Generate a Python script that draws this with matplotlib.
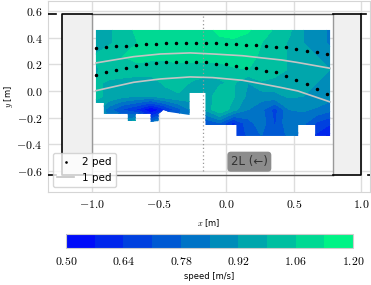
import numpy as np
import matplotlib
matplotlib.use("Agg")
import matplotlib.pyplot as plt
from matplotlib.patches import Polygon, Rectangle
from matplotlib.ticker import FuncFormatter, MultipleLocator

plt.rcParams["mathtext.fontset"] = "cm"
plt.rcParams["font.family"] = "DejaVu Sans"

# speed field (m/s), rows from top (y=0.46) to bottom (y=-0.34)
grid_x = [-0.97, -0.87, -0.77, -0.66, -0.56, -0.46, -0.36, -0.25, -0.15,
          -0.05, 0.05, 0.16, 0.26, 0.36, 0.47, 0.57, 0.67, 0.77]
grid_y = [0.46, 0.36, 0.26, 0.16, 0.06, -0.04, -0.14, -0.24, -0.34]
speed = [
    [0.92, 0.98, 1.02, 1.08, 1.10, 1.10, 1.10, 1.10, 1.12, 1.14, 1.15, 1.14, 1.10, 1.05, 1.00, 0.92, 0.88, 0.84],
    [0.94, 0.98, 1.02, 1.06, 1.08, 1.10, 1.10, 1.10, 1.12, 1.12, 1.12, 1.10, 1.06, 1.02, 0.98, 0.92, 0.88, 0.84],
    [1.00, 1.04, 1.06, 1.08, 1.08, 1.08, 1.08, 1.08, 1.10, 1.10, 1.10, 1.08, 1.05, 1.03, 0.98, 0.94, 0.92, 0.88],
    [0.98, 1.02, 1.04, 1.04, 1.02, 1.02, 1.04, 1.04, 1.02, 1.02, 1.05, 1.06, 1.05, 1.03, 0.98, 0.95, 0.93, 0.92],
    [1.00, 0.98, 0.96, 0.94, 0.96, 1.00, 1.02, 0.98, 0.96, 0.98, 1.00, 0.92, 0.98, 0.96, 0.95, 0.93, 0.92, 0.90],
    [1.00, 0.98, 0.94, 0.92, 0.92, 0.96, 0.98, 0.95, 0.95, 1.04, 1.00, 0.90, 0.88, 0.90, 0.93, 0.92, 0.90, 0.88],
    [0.96, 0.80, 0.70, 0.62, 0.49, 0.62, 0.75, 0.88, 0.94, 1.06, 0.95, 0.85, 0.80, 0.68, 0.85, 0.86, 0.84, 0.80],
    [0.95, 0.85, 0.90, 1.02, 0.80, 0.95, 0.80, 0.85, 0.72, 0.78, 0.62, 0.75, 0.82, 0.70, 0.85, 0.80, 0.70, 0.65],
    [0.90, 0.85, 0.90, 0.95, 0.85, 0.90, 0.80, 0.80, 0.75, 0.70, 0.65, 0.72, 0.78, 0.72, 0.80, 0.75, 0.62, 0.55],
]

# outline of the measured area
region_x = [-0.97, 0.77, 0.77, 0.659, 0.659, 0.533, 0.533, 0.074, 0.074, -0.156,
            -0.156, -0.274, -0.274, -0.43, -0.467, -0.504, -0.504, -0.563, -0.563,
            -0.674, -0.674, -0.733, -0.733, -0.911, -0.911, -0.97]
region_y = [0.457, 0.457, -0.337, -0.337, -0.255, -0.255, -0.337, -0.337, -0.255, -0.255,
            -0.015, -0.015, -0.18, -0.157, -0.142, -0.172, -0.225, -0.232, -0.172,
            -0.172, -0.225, -0.225, -0.172, -0.172, -0.09, -0.09]

# 2 ped positions
ped2_x = [-0.97, -0.895, -0.82, -0.745, -0.67, -0.60, -0.525, -0.45, -0.375, -0.30,
          -0.225, -0.15, -0.08, 0.0, 0.07, 0.145, 0.22, 0.295, 0.37, 0.445,
          0.52, 0.595, 0.67, 0.745]
ped2_y_upper = [0.320, 0.330, 0.335, 0.339, 0.347, 0.352, 0.354, 0.357, 0.360, 0.358,
                0.357, 0.362, 0.357, 0.354, 0.354, 0.347, 0.345, 0.335, 0.330, 0.327,
                0.315, 0.302, 0.290, 0.275]
ped2_y_lower = [0.120, 0.140, 0.160, 0.175, 0.190, 0.202, 0.210, 0.215, 0.219, 0.219,
                0.217, 0.215, 0.202, 0.200, 0.187, 0.175, 0.175, 0.150, 0.140, 0.112,
                0.082, 0.052, 0.015, -0.022]

# 1 ped trajectories
ped1_x = [-0.97, -0.69, -0.49, -0.27, -0.10, 0.12, 0.27, 0.41, 0.53, 0.77]
ped1_y_upper = [0.210, 0.257, 0.277, 0.285, 0.277, 0.264, 0.247, 0.232, 0.213, 0.170]
ped1_y_lower = [0.002, 0.065, 0.090, 0.105, 0.100, 0.080, 0.052, 0.025, 0.000, -0.082]

levels = [0.50, 0.57, 0.64, 0.71, 0.78, 0.85, 0.92, 0.99, 1.06, 1.13, 1.20]
cbar_ticks = [0.50, 0.64, 0.78, 0.92, 1.06, 1.20]

fig = plt.figure(figsize=(3.71, 2.85), dpi=100)
ax = fig.add_axes([0.1294, 0.3263, 0.8666, 0.6702])
cax = fig.add_axes([0.1779, 0.1298, 0.7736, 0.0491])

ax.set_xlim(-1.326, 1.063)
ax.set_ylim(-0.757, 0.674)
ax.xaxis.set_major_locator(MultipleLocator(0.5))
ax.yaxis.set_major_locator(MultipleLocator(0.2))
ax.grid(True, color="#dddddd", lw=1.0, zorder=0)
ax.set_axisbelow(True)
for s in ax.spines.values():
    s.set_color("#d5d5d5")
ax.tick_params(length=0, labelsize=8.5, pad=4)
ax.xaxis.set_major_formatter(FuncFormatter(lambda v, p: f"${v:.1f}$"))
ax.yaxis.set_major_formatter(FuncFormatter(lambda v, p: f"${v:.1f}$"))
ax.set_xlabel("$x$ [m]", fontsize=6, labelpad=5)
ax.set_ylabel("$y$ [m]", fontsize=6, labelpad=1)

# geometry
y_top, y_bot = 0.575, -0.63
for x0, x1 in [(-1.22, -1.0), (0.79, 1.0)]:
    ax.add_patch(Rectangle((x0, y_bot), x1 - x0, y_top - y_bot,
                           facecolor="#f0f0f0", edgecolor="none", zorder=1))
ax.plot([-1.0, -1.0], [y_bot, y_top], color="#999999", lw=1.0, zorder=2)
ax.plot([0.79, 0.79], [y_bot, y_top], color="#999999", lw=1.0, zorder=2)
ax.plot([-1.0, 0.79], [y_top, y_top], color="#555555", lw=1.0, zorder=2)
ax.plot([-1.0, 0.79], [y_bot, y_bot], color="#555555", lw=1.0, zorder=2)
ax.plot([-1.0, -1.22, -1.22, -1.0], [y_top, y_top, y_bot, y_bot], color="black", lw=1.2, zorder=3)
ax.plot([0.79, 1.0, 1.0, 0.79], [y_top, y_top, y_bot, y_bot], color="black", lw=1.2, zorder=3)
ax.plot([1.0, 1.035], [y_top, y_top], color="black", lw=1.2, zorder=3)
ax.plot([-1.33, -1.27], [y_top, y_top], color="black", lw=1.2, zorder=3)
ax.plot([-1.33, -1.27], [y_bot, y_bot], color="black", lw=1.2, zorder=3)
ax.plot([1.055, 1.07], [y_bot, y_bot], color="black", lw=1.2, zorder=3)

# speed field clipped to measured area
X, Y = np.meshgrid(grid_x, grid_y)
area = Polygon(np.column_stack([region_x, region_y]), closed=True,
               facecolor="none", edgecolor="none")
ax.add_patch(area)
cs = ax.contourf(X, Y, np.array(speed), levels=levels, cmap="winter", zorder=4)
cs.set_clip_path(area)

ax.plot([-0.173, -0.173], [0.56, -0.60], color="#999999", ls=(0, (1, 2)), lw=0.9, zorder=5)

ax.plot(ped1_x, ped1_y_upper, color="#c4c4c4", lw=1.2, zorder=6, label="1 ped")
ax.plot(ped1_x, ped1_y_lower, color="#c4c4c4", lw=1.2, zorder=6)
ax.plot(ped2_x, ped2_y_upper, "o", color="black", ms=1.5, zorder=7, label="2 ped")
ax.plot(ped2_x, ped2_y_lower, "o", color="black", ms=1.5, zorder=7)

handles, labels = ax.get_legend_handles_labels()
leg = ax.legend(handles[::-1], labels[::-1], loc="lower left", fontsize=7.5,
                handlelength=1.6, markerscale=0.6, edgecolor="#cccccc", fancybox=True)
leg.set_zorder(10)

ax.text(0.17, -0.53, "2L (←)", fontsize=8.5, color="#333333", ha="center", va="center",
        bbox=dict(boxstyle="round,pad=0.3", facecolor="#8c8c8c", edgecolor="none"), zorder=8)

cb = fig.colorbar(cs, cax=cax, orientation="horizontal", ticks=cbar_ticks)
cb.outline.set_edgecolor("#cccccc")
cb.ax.tick_params(length=0, labelsize=8.5, pad=5)
cb.ax.xaxis.set_major_formatter(FuncFormatter(lambda v, p: f"${v:.2f}$"))
cb.set_label("speed [m/s]", fontsize=6, labelpad=3)

fig.savefig("out.png", dpi=100)
